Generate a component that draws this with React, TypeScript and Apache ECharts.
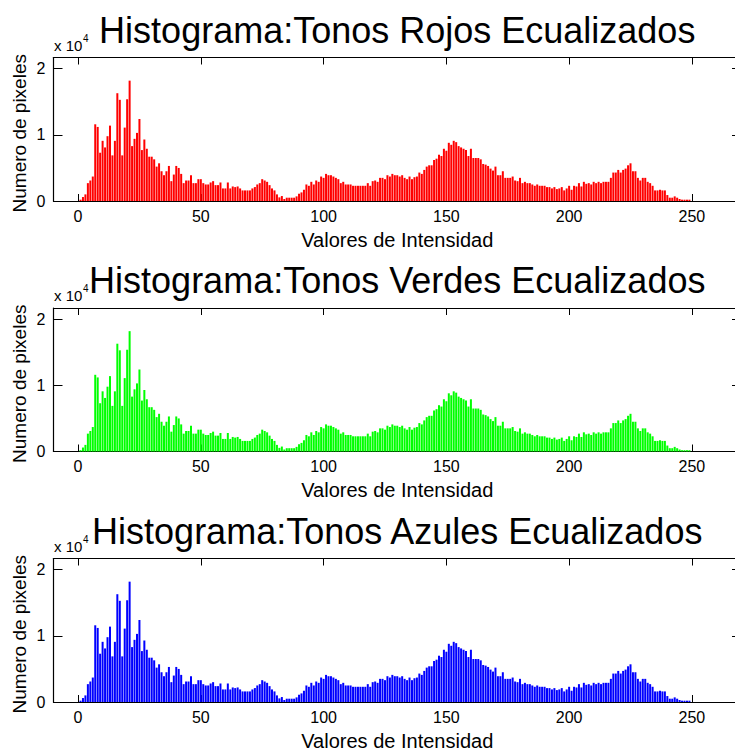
import React, { useEffect, useRef } from "react";
import * as echarts from "echarts";

const counts: number[] = [
  0, 200, 600, 1000, 2700, 3100, 3700, 11600, 11200, 7300,
  9100, 8100, 9800, 11400, 6900, 9100, 16300, 15300, 6900, 11100,
  15400, 18200, 8300, 9400, 10300, 12400, 7700, 9300, 7900, 6700,
  6700, 6300, 5200, 5700, 4500, 3900, 4500, 5300, 3000, 4000,
  5300, 5000, 4100, 2700, 3100, 3100, 3900, 2700, 2700, 3300,
  3300, 2700, 2500, 2500, 2800, 3000, 2400, 2400, 2800, 1900,
  1900, 2800, 1900, 2200, 2100, 2200, 1900, 1600, 1600, 1600,
  1600, 1900, 2100, 2500, 2700, 3300, 3100, 2900, 2400, 1900,
  1600, 1000, 550, 750, 300, 500, 500, 500, 500, 700,
  1100, 1300, 1700, 2500, 2300, 2900, 2500, 3100, 2900, 3700,
  3500, 4100, 3900, 3900, 3700, 3500, 3300, 2700, 2900, 2500,
  2500, 2500, 2300, 2300, 2300, 2300, 2300, 2300, 2700, 2300,
  3000, 3100, 2900, 3500, 3500, 3300, 3900, 3700, 4100, 3900,
  3900, 3700, 3900, 3500, 3300, 3700, 3300, 3600, 3700, 4300,
  4100, 4700, 5200, 5400, 5400, 6200, 6400, 7000, 6800, 7900,
  7600, 8800, 8500, 9100, 8900, 8300, 8100, 7900, 7700, 6800,
  7900, 6500, 6500, 6500, 6300, 5600, 5500, 5300, 4900, 4600,
  5200, 3900, 3900, 4500, 3500, 3500, 3500, 3700, 3100, 3000,
  3500, 2700, 2900, 2700, 2700, 2500, 2300, 2500, 2300, 2300,
  2300, 2100, 2100, 1900, 2100, 1800, 1900, 2100, 1600, 1900,
  2300, 1700, 2300, 2200, 2700, 2200, 2900, 2600, 2700, 2500,
  2900, 2700, 2900, 2700, 2900, 2900, 2900, 3500, 4300, 4300,
  4700, 4300, 4700, 4900, 5400, 5700, 4500, 4500, 3500, 3100,
  3500, 3500, 2900, 2700, 2300, 1600, 1600, 1700, 1600, 1600,
  900, 500, 500, 700, 500, 300, 200, 200, 200, 200,
  0, 0, 0, 0, 0, 0,
];

const titles: string[] = [
  "Histograma:Tonos Rojos Ecualizados",
  "Histograma:Tonos Verdes Ecualizados",
  "Histograma:Tonos Azules Ecualizados",
];
const colors: string[] = ["#ff0000", "#00ff00", "#0000ff"];
const xTicks: number[] = [0, 50, 100, 150, 200, 250];
const xLabel = "Valores de Intensidad";
const yLabel = "Numero de pixeles";

const FONT = '"Liberation Sans", Arial, sans-serif';

export default function App() {
  const ref = useRef<HTMLDivElement>(null);
  useEffect(() => {
    if (!ref.current) return;
    const chart = echarts.init(ref.current, null, { renderer: "svg" });
    const gridLeft = 53.5;
    const gridWidth = 687.5;
    const gridTop0 = 57.5;
    const gridH = 143.5;
    const step = 250.5;
    const grids: any[] = [];
    const xAxes: any[] = [];
    const yAxes: any[] = [];
    const series: any[] = [];
    const graphics: any[] = [];
    const centerX = gridLeft + gridWidth / 2;
    for (let p = 0; p < 3; p++) {
      const dy = step * p;
      grids.push({ left: gridLeft, top: gridTop0 + dy, width: gridWidth, height: gridH, containLabel: false });
      const axisLine = { show: true, onZero: false, lineStyle: { color: "#000", width: 1.2 } };
      xAxes.push({
        gridIndex: p, type: "value", position: "bottom", min: -10, max: 270,
        axisLine,
        axisTick: { show: true, inside: true, length: 7, customValues: xTicks, lineStyle: { color: "#000" } },
        axisLabel: { show: true, customValues: xTicks, color: "#000", fontSize: 16, fontFamily: FONT, margin: 7 },
        splitLine: { show: false },
      });
      xAxes.push({
        gridIndex: p, type: "value", position: "top", min: -10, max: 270,
        axisLine,
        axisTick: { show: true, inside: true, length: 7, customValues: xTicks, lineStyle: { color: "#000" } },
        axisLabel: { show: false },
        splitLine: { show: false },
      });
      const yBase = {
        gridIndex: p, type: "value", min: 0, max: 21700, interval: 10000,
        axisLine,
        axisTick: { show: true, inside: true, length: 9, lineStyle: { color: "#000" } },
        splitLine: { show: false },
      };
      yAxes.push({
        ...yBase, position: "left",
        axisLabel: { show: true, color: "#000", fontSize: 16, fontFamily: FONT, margin: 8, formatter: (v: number) => String(v / 10000) },
      });
      yAxes.push({ ...yBase, position: "right", axisLabel: { show: false } });
      series.push({
        type: "bar",
        xAxisIndex: p * 2,
        yAxisIndex: p * 2,
        data: counts.map((v, i) => [i, v]),
        barWidth: 2,
        itemStyle: { color: colors[p] },
        silent: true,
      });
      graphics.push({
        type: "text", x: centerX, y: 30 + dy,
        style: { text: titles[p], fill: "#000", font: `36px ${FONT}`, align: "center", verticalAlign: "middle", textAlign: "center", textVerticalAlign: "middle" },
      });
      graphics.push({
        type: "text", x: 54, y: 45 + dy,
        style: { text: "x 10", fill: "#000", font: `15px ${FONT}`, align: "left", verticalAlign: "middle", textAlign: "left", textVerticalAlign: "middle" },
      });
      graphics.push({
        type: "text", x: 83, y: 38 + dy,
        style: { text: "4", fill: "#000", font: `10px ${FONT}`, align: "left", verticalAlign: "middle", textAlign: "left", textVerticalAlign: "middle" },
      });
      graphics.push({
        type: "text", x: centerX, y: 239.5 + dy,
        style: { text: xLabel, fill: "#000", font: `20px ${FONT}`, align: "center", verticalAlign: "middle", textAlign: "center", textVerticalAlign: "middle" },
      });
      graphics.push({
        type: "text", x: 19, y: gridTop0 + dy + gridH / 2 + 4, rotation: Math.PI / 2,
        style: { text: yLabel, fill: "#000", font: `19px ${FONT}`, align: "center", verticalAlign: "middle", textAlign: "center", textVerticalAlign: "middle" },
      });
    }
    chart.setOption({
      animation: false,
      backgroundColor: "#fff",
      grid: grids,
      xAxis: xAxes,
      yAxis: yAxes,
      series,
      graphic: graphics,
    });
    return () => chart.dispose();
  }, []);
  return (
    <div
      ref={ref}
      style={{ position: "fixed", left: 0, top: 0, width: 745, height: 751, background: "#fff" }}
    />
  );
}
